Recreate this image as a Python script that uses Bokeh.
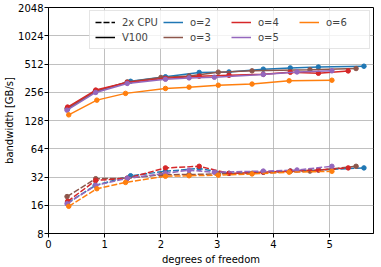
from bokeh.plotting import figure
from bokeh.models import FixedTicker, Legend, LegendItem, Label, Range1d
from bokeh.embed import file_html
from bokeh.resources import INLINE

# degrees of freedom (units of 1e8) and bandwidth [GB/s]
orders = ["o=2", "o=3", "o=4", "o=5", "o=6"]
colors = ["#1f77b4", "#8c564b", "#d62728", "#9467bd", "#ff7f0e"]

dof = {
    "o=2": [0.34, 0.83, 1.46, 2.08, 2.68, 3.21, 3.82, 4.30, 4.80, 5.61],
    "o=3": [0.33, 0.84, 1.40, 2.00, 2.50, 3.02, 3.62, 4.65, 5.47],
    "o=4": [0.34, 0.84, 1.40, 2.08, 2.68, 3.21, 3.82, 4.30, 4.80, 5.33],
    "o=5": [0.33, 0.84, 1.40, 2.08, 2.50, 2.95, 3.82, 4.42, 5.04],
    "o=6": [0.36, 0.86, 1.37, 2.08, 2.50, 3.02, 3.62, 4.28, 5.04],
}
gpu = {
    "o=2": [170, 260, 335, 374, 416, 421, 451, 465, 475, 485],
    "o=3": [172, 262, 330, 368, 382, 419, 433, 445, 458],
    "o=4": [178, 270, 325, 360, 380, 388, 398, 418, 408, 432],
    "o=5": [165, 255, 318, 352, 364, 370, 396, 421, 433],
    "o=6": [147, 211, 249, 281, 290, 304, 313, 339, 344],
}
cpu = {
    "o=2": [17.0, 26.0, 33.0, 36.8, 39.4, 35.0, 36.0, 37.0, 38.0, 40.0],
    "o=3": [19.8, 30.7, 31.0, 33.8, 34.0, 34.5, 35.0, 37.0, 41.6],
    "o=4": [17.6, 29.4, 31.0, 40.0, 41.6, 35.0, 36.0, 37.0, 38.0, 40.0],
    "o=5": [16.6, 26.0, 31.0, 35.0, 37.8, 36.0, 37.0, 38.0, 41.6],
    "o=6": [15.6, 24.0, 28.0, 32.6, 33.0, 33.5, 34.5, 36.0, 36.8],
}
x_ticks = [0, 1, 2, 3, 4, 5]
y_ticks = [8, 16, 32, 64, 128, 256, 512, 1024, 2048]

FONT = "DejaVu Sans"
p = figure(width=381, height=267, y_axis_type="log",
           x_range=Range1d(0, 5.78e8), y_range=Range1d(8, 2048),
           output_backend="svg", toolbar_location=None,
           min_border_left=48, min_border_right=8, min_border_top=7, min_border_bottom=33)

for o, c in zip(orders, colors):
    xs = [v * 1e8 for v in dof[o]]
    p.line(xs, gpu[o], line_color=c, line_width=1.5)
    p.scatter(xs, gpu[o], size=4.5, color=c)
    p.line(xs, cpu[o], line_color=c, line_width=1.5, line_dash="6 2")
    p.scatter(xs, cpu[o], size=4.5, color=c)

p.xaxis.ticker = FixedTicker(ticks=[t * 1e8 for t in x_ticks])
p.xaxis.major_label_overrides = {t * 1e8: str(t) for t in x_ticks}
p.yaxis.ticker = FixedTicker(ticks=y_ticks)
p.yaxis.major_label_overrides = {t: str(t) for t in y_ticks}

for ax in (p.xaxis[0], p.yaxis[0]):
    ax.major_label_text_font = FONT
    ax.major_label_text_font_size = "10px"
    ax.major_label_text_color = "#000000"
    ax.axis_label_text_font = FONT
    ax.axis_label_text_font_size = "10px"
    ax.axis_label_text_font_style = "normal"
    ax.axis_label_text_color = "#000000"
    ax.major_tick_in = 0
    ax.major_tick_out = 4
    ax.minor_tick_line_color = None
    ax.axis_line_color = "#000000"
    ax.major_tick_line_color = "#000000"
p.xaxis.axis_label = "degrees of freedom"
p.yaxis.axis_label = "bandwidth [GB/s]"
p.xaxis.axis_label_standoff = 3
p.yaxis.axis_label_standoff = 0
p.xaxis.major_label_standoff = 2
p.yaxis.major_label_standoff = 1

p.xgrid.grid_line_color = "#b0b0b0"
p.ygrid.grid_line_color = "#b0b0b0"
p.xgrid.grid_line_width = 0.8
p.ygrid.grid_line_width = 0.8
p.outline_line_color = "#000000"
p.outline_line_alpha = 1.0

p.add_layout(Label(x=331, y=-24, x_units="screen", y_units="screen", text="1e8",
                   text_align="right", text_baseline="middle",
                   text_font=FONT, text_font_size="10px"))

# legend (proxy renderers placed outside the visible range)
hx = [-2e8, -1e8]
hy = [1, 1]
r_cpu = p.line(hx, hy, line_color="black", line_width=1.5, line_dash="6 2")
r_gpu = p.line(hx, hy, line_color="black", line_width=1.5)
items = [LegendItem(label="2x CPU", renderers=[r_cpu]),
         LegendItem(label="V100", renderers=[r_gpu])]
for o, c in zip(orders, colors):
    r = p.line(hx, hy, line_color=c, line_width=1.5)
    items.append(LegendItem(label=o, renderers=[r]))
leg = Legend(items=items, location="top_right", orientation="vertical", nrows=2,
             label_text_font=FONT, label_text_font_size="10px",
             glyph_width=20, glyph_height=12, label_standoff=7, spacing=3,
             label_width=38, padding=5, margin=3, label_height=12,
             border_line_color="#cccccc", background_fill_alpha=0.8)
p.add_layout(leg)

open("out.html", "w").write(file_html(p, INLINE))
